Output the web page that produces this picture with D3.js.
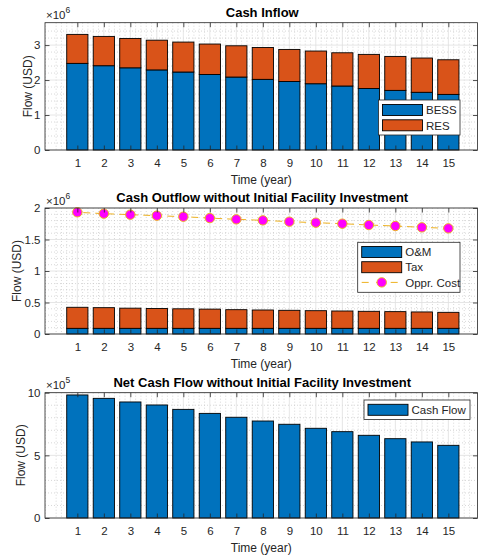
<!DOCTYPE html>
<html>
<head>
<meta charset="utf-8">
<script src="https://cdn.jsdelivr.net/npm/d3@7"></script>
<style>
  html, body { margin: 0; padding: 0; background: #fff; }
  svg { display: block; font-family: "Liberation Sans", Arial, Helvetica, sans-serif; }
</style>
</head>
<body>
<svg id="chart" width="478" height="559"></svg>
<script>
// Years of operation
const years = [1, 2, 3, 4, 5, 6, 7, 8, 9, 10, 11, 12, 13, 14, 15];

// Cash inflow (USD)
const bessInflow = [2.477e6, 2.41e6, 2.35e6, 2.29e6, 2.23e6, 2.16e6, 2.086e6, 2.02e6, 1.96e6, 1.895e6, 1.83e6, 1.76e6, 1.705e6, 1.65e6, 1.59e6];
const resInflow  = [0.829e6, 0.838e6, 0.84e6, 0.85e6, 0.856e6, 0.87e6, 0.894e6, 0.91e6, 0.916e6, 0.935e6, 0.95e6, 0.974e6, 0.971e6, 0.98e6, 0.99e6];

// Cash outflow (USD)
const omCost   = [0.09e6, 0.09e6, 0.09e6, 0.09e6, 0.09e6, 0.09e6, 0.09e6, 0.09e6, 0.09e6, 0.09e6, 0.09e6, 0.09e6, 0.09e6, 0.09e6, 0.09e6];
const taxCost  = [0.334e6, 0.328e6, 0.32e6, 0.315e6, 0.31e6, 0.305e6, 0.296e6, 0.291e6, 0.286e6, 0.28e6, 0.275e6, 0.27e6, 0.265e6, 0.26e6, 0.254e6];
const opprCost = [1.932e6, 1.91e6, 1.894e6, 1.878e6, 1.862e6, 1.84e6, 1.82e6, 1.804e6, 1.783e6, 1.767e6, 1.751e6, 1.73e6, 1.714e6, 1.693e6, 1.677e6];

// Net cash flow (USD)
const netCashFlow = [9.82e5, 9.55e5, 9.26e5, 9.02e5, 8.67e5, 8.35e5, 8.04e5, 7.74e5, 7.48e5, 7.16e5, 6.89e5, 6.6e5, 6.33e5, 6.07e5, 5.8e5];

// Axis tick values
const xTicks = years;
const inflowTicks  = [0, 1e6, 2e6, 3e6];
const outflowTicks = [0, 0.5e6, 1e6, 1.5e6, 2e6];
const netTicks     = [0, 5e5, 10e5];

const BLUE = "#0072BD", ORANGE = "#D95319", YELLOW = "#EDB120", MAGENTA = "#FF00FF";
const AX = "#262626";
const svg = d3.select("#chart");

const left = 45, right = 477.5;
const x = d3.scaleLinear().domain([-0.22, 16.1]).range([left, right]);
const barW = x(0.8) - x(0);

function panel(opt) {
  const y = d3.scaleLinear().domain([0, opt.yMax]).range([opt.bottom, opt.top]);
  const g = svg.append("g");

  g.append("rect").attr("x", left).attr("y", opt.top)
    .attr("width", right - left).attr("height", opt.bottom - opt.top).attr("fill", "#fff");

  // minor grid
  const xMinor = d3.range(Math.ceil(-0.2 / 0.2), Math.floor(16.1 / 0.2) + 1).map(d => d * 0.2)
    .filter(v => Math.abs(v - Math.round(v)) > 1e-6 && x(v) > left && x(v) < right);
  const yMinor = d3.range(1, Math.round(opt.yMax / opt.minorStep)).map(d => d * opt.minorStep)
    .filter(v => !opt.ticks.some(t => Math.abs(t - v) < 1e-6));
  g.selectAll(".xm").data(xMinor).join("line")
    .attr("x1", d => x(d)).attr("x2", d => x(d)).attr("y1", opt.top).attr("y2", opt.bottom)
    .attr("stroke", "#bdbdbd").attr("stroke-width", 0.6).attr("stroke-dasharray", "1,2");
  g.selectAll(".ym").data(yMinor).join("line")
    .attr("y1", d => y(d)).attr("y2", d => y(d)).attr("x1", left).attr("x2", right)
    .attr("stroke", "#bdbdbd").attr("stroke-width", 0.6).attr("stroke-dasharray", "1,2");
  // major grid
  g.selectAll(".xg").data(xTicks).join("line")
    .attr("x1", d => x(d)).attr("x2", d => x(d)).attr("y1", opt.top).attr("y2", opt.bottom)
    .attr("stroke", "#dfdfdf").attr("stroke-width", 0.8);
  g.selectAll(".yg").data(opt.ticks).join("line")
    .attr("y1", d => y(d)).attr("y2", d => y(d)).attr("x1", left).attr("x2", right)
    .attr("stroke", "#dfdfdf").attr("stroke-width", 0.8);

  opt.draw(g, y);

  // axes with inward ticks on all four sides
  const fmt = opt.fmt;
  const bottomAx = g.append("g").attr("transform", `translate(0,${opt.bottom})`)
    .call(d3.axisBottom(x).tickValues(xTicks).tickSizeInner(-4.5).tickSizeOuter(0).tickPadding(9));
  const topAx = g.append("g").attr("transform", `translate(0,${opt.top})`)
    .call(d3.axisTop(x).tickValues(xTicks).tickSizeInner(-4.5).tickSizeOuter(0).tickFormat(""));
  const leftAx = g.append("g").attr("transform", `translate(${left},0)`)
    .call(d3.axisLeft(y).tickValues(opt.ticks).tickSizeInner(-4.5).tickSizeOuter(0).tickPadding(4.5).tickFormat(fmt));
  const rightAx = g.append("g").attr("transform", `translate(${right},0)`)
    .call(d3.axisRight(y).tickValues(opt.ticks).tickSizeInner(-4.5).tickSizeOuter(0).tickFormat(""));
  [bottomAx, topAx, leftAx, rightAx].forEach(a => {
    a.select(".domain").remove();
    a.selectAll("line").attr("stroke", AX).attr("stroke-width", 0.8);
    a.selectAll("text").attr("fill", AX).attr("font-size", 11.5)
      .attr("font-family", "'Liberation Sans', Arial, sans-serif");
  });
  g.append("rect").attr("x", left).attr("y", opt.top)
    .attr("width", right - left).attr("height", opt.bottom - opt.top)
    .attr("fill", "none").attr("stroke", AX).attr("stroke-width", 0.8);

  // titles and labels
  g.append("text").attr("x", (left + right) / 2 + 1).attr("y", opt.top - 6)
    .attr("text-anchor", "middle").attr("font-weight", "bold").attr("font-size", 13)
    .attr("fill", "#000").text(opt.title);
  g.append("text").attr("x", (left + right) / 2).attr("y", opt.bottom + 34)
    .attr("text-anchor", "middle").attr("font-size", 12).attr("fill", AX).text("Time (year)");
  g.append("text").attr("transform", `translate(${opt.yLabelX},${(opt.top + opt.bottom) / 2}) rotate(-90)`)
    .attr("text-anchor", "middle").attr("font-size", 12).attr("fill", AX).text("Flow (USD)");
  const ex = g.append("text").attr("x", left + 1).attr("y", opt.top - 3.5)
    .attr("font-size", 11.5).attr("fill", AX);
  ex.append("tspan").text("\u00d710");
  ex.append("tspan").attr("dy", -6).attr("font-size", 8.5).text(opt.exp);

  return { g, y };
}

function legend(g, box, items) {
  g.append("rect").attr("x", box.x).attr("y", box.y).attr("width", box.w).attr("height", box.h)
    .attr("fill", "#fff").attr("stroke", AX).attr("stroke-width", 0.8);
  items.forEach((it, i) => {
    const cy = box.y + box.pad + i * box.step;
    if (it.type === "bar") {
      g.append("rect").attr("x", box.x + 4).attr("y", cy - 5.5).attr("width", 40).attr("height", 11)
        .attr("fill", it.color).attr("stroke", "#000").attr("stroke-width", 0.9);
    } else {
      g.append("line").attr("x1", box.x + 4).attr("x2", box.x + 44).attr("y1", cy).attr("y2", cy)
        .attr("stroke", YELLOW).attr("stroke-width", 1).attr("stroke-dasharray", "7,7.5")
        .attr("stroke-dashoffset", 0);
      g.append("circle").attr("cx", box.x + 24).attr("cy", cy).attr("r", 4.7)
        .attr("fill", MAGENTA).attr("stroke", YELLOW).attr("stroke-width", 1);
    }
    g.append("text").attr("x", box.x + 47.5).attr("y", cy + 4.2).attr("font-size", 11.5)
      .attr("fill", AX).text(it.label);
  });
}

// Cash inflow panel
panel({
  top: 22.7, bottom: 150, yMax: 3.64e6, ticks: inflowTicks, minorStep: 0.2e6, yLabelX: 31.5,
  fmt: d => d3.format("d")(d / 1e6), exp: "6", title: "Cash Inflow",
  draw: (g, y) => {
    g.selectAll(".b1").data(years).join("rect")
      .attr("x", (d) => x(d) - barW / 2).attr("width", barW)
      .attr("y", (d, i) => y(bessInflow[i])).attr("height", (d, i) => y(0) - y(bessInflow[i]))
      .attr("fill", BLUE).attr("stroke", "#000").attr("stroke-width", 0.9);
    g.selectAll(".b2").data(years).join("rect")
      .attr("x", (d) => x(d) - barW / 2).attr("width", barW)
      .attr("y", (d, i) => y(bessInflow[i] + resInflow[i]))
      .attr("height", (d, i) => y(bessInflow[i]) - y(bessInflow[i] + resInflow[i]))
      .attr("fill", ORANGE).attr("stroke", "#000").attr("stroke-width", 0.9);
    legend(g, { x: 378.5, y: 100, w: 81.5, h: 35, pad: 10, step: 15.3 },
      [{ type: "bar", color: BLUE, label: "BESS" }, { type: "bar", color: ORANGE, label: "RES" }]);
  }
});

// Cash outflow panel
panel({
  top: 208, bottom: 334, yMax: 2e6, ticks: outflowTicks, minorStep: 0.1e6, yLabelX: 20.5,
  fmt: d => d3.format("")(d / 1e6), exp: "6", title: "Cash Outflow without Initial Facility Investment",
  draw: (g, y) => {
    g.selectAll(".o1").data(years).join("rect")
      .attr("x", (d) => x(d) - barW / 2).attr("width", barW)
      .attr("y", (d, i) => y(omCost[i])).attr("height", (d, i) => y(0) - y(omCost[i]))
      .attr("fill", BLUE).attr("stroke", "#000").attr("stroke-width", 0.9);
    g.selectAll(".o2").data(years).join("rect")
      .attr("x", (d) => x(d) - barW / 2).attr("width", barW)
      .attr("y", (d, i) => y(omCost[i] + taxCost[i]))
      .attr("height", (d, i) => y(omCost[i]) - y(omCost[i] + taxCost[i]))
      .attr("fill", ORANGE).attr("stroke", "#000").attr("stroke-width", 0.9);
    const line = d3.line().x((d, i) => x(years[i])).y(d => y(d));
    g.append("path").datum(opprCost).attr("d", line).attr("fill", "none")
      .attr("stroke", YELLOW).attr("stroke-width", 1).attr("stroke-dasharray", "7,5")
      .attr("stroke-dashoffset", -6);
    g.selectAll(".pt").data(opprCost).join("circle")
      .attr("cx", (d, i) => x(years[i])).attr("cy", d => y(d)).attr("r", 4.7)
      .attr("fill", MAGENTA).attr("stroke", YELLOW).attr("stroke-width", 1);
    legend(g, { x: 357.7, y: 242.3, w: 102.3, h: 50, pad: 9.7, step: 15.2 },
      [{ type: "bar", color: BLUE, label: "O&M" }, { type: "bar", color: ORANGE, label: "Tax" },
       { type: "line", label: "Oppr. Cost" }]);
  }
});

// Net cash flow panel
panel({
  top: 392.7, bottom: 518, yMax: 10e5, ticks: netTicks, minorStep: 1e5, yLabelX: 24.5,
  fmt: d => d3.format("d")(d / 1e5), exp: "5", title: "Net Cash Flow without Initial Facility Investment",
  draw: (g, y) => {
    g.selectAll(".n1").data(years).join("rect")
      .attr("x", (d) => x(d) - barW / 2).attr("width", barW)
      .attr("y", (d, i) => y(netCashFlow[i])).attr("height", (d, i) => y(0) - y(netCashFlow[i]))
      .attr("fill", BLUE).attr("stroke", "#000").attr("stroke-width", 0.9);
    legend(g, { x: 364, y: 400, w: 106, h: 19.5, pad: 9.8, step: 15 },
      [{ type: "bar", color: BLUE, label: "Cash Flow" }]);
  }
});
</script>
</body>
</html>
